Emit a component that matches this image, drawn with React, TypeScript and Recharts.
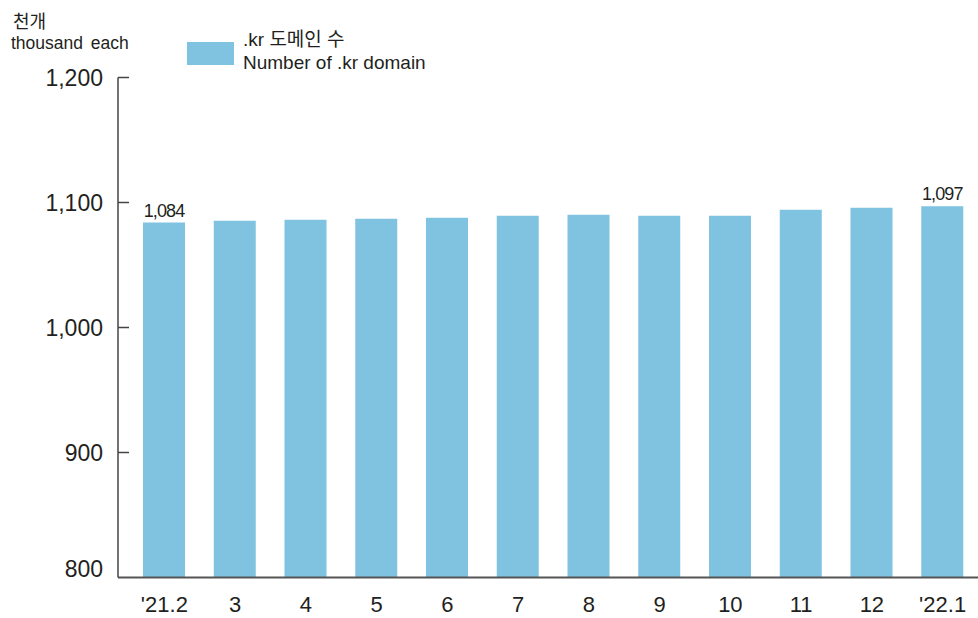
import React from 'react';
import { BarChart, Bar, XAxis, YAxis, LabelList } from 'recharts';

const months = ["'21.2", '3', '4', '5', '6', '7', '8', '9', '10', '11', '12', "'22.1"];
const domainCounts = [1084, 1085.4, 1086.2, 1087, 1087.8, 1089.4, 1090.2, 1089.4, 1089.4, 1094.2, 1095.8, 1097];
const yTicks = [800, 900, 1000, 1100, 1200];
const labelledIdx = [0, 11];
const valueLabels = ['1,084', '1,097'];

const FONT = '"Liberation Sans", Arial, "Noto Sans CJK KR", sans-serif';
const BAR = '#7fc3e0';
const INK = '#231f20';

const data = months.map((m, i) => ({ month: m, count: domainCounts[i] }));

function YTick(props: any) {
  const { x, y, payload } = props;
  return (
    <g>
      {payload.value !== 800 && (
        <line x1={x + 15} x2={x + 26} y1={y} y2={y} stroke="#444" strokeWidth={1.5} />
      )}
      <text x={x} y={y} dy={payload.value === 800 ? -1 : 8} textAnchor="end" fill={INK} fontSize={23} fontFamily={FONT}>
        {payload.value.toLocaleString('en-US')}
      </text>
    </g>
  );
}

function TopLabel(props: any) {
  const { x, y, width, index } = props;
  const k = labelledIdx.indexOf(index);
  if (k < 0) return null;
  return (
    <text x={x + width / 2} y={y - 6} textAnchor="middle" fill={INK} fontSize={18} fontFamily={FONT} letterSpacing={-0.9}>
      {valueLabels[k]}
    </text>
  );
}

export default function App() {
  return (
    <div style={{ position: 'absolute', left: 0, top: 0, width: 978, height: 618, background: '#fff', fontFamily: FONT, color: INK }}>
      <div style={{ position: 'absolute', left: 13, top: 7, fontSize: 18 }}>천개</div>
      <div style={{ position: 'absolute', left: 11, top: 33, fontSize: 17.5, wordSpacing: 3 }}>thousand each</div>
      <div style={{ position: 'absolute', left: 187, top: 42, width: 47, height: 23, background: BAR }} />
      <div style={{ position: 'absolute', left: 243, top: 28, fontSize: 19, lineHeight: '23px' }}>
        <div>.kr 도메인 수</div>
        <div>Number of .kr domain</div>
      </div>
      <BarChart
        width={978}
        height={618}
        data={data}
        margin={{ top: 77.5, right: 0, bottom: 0, left: 8 }}
        barSize={42}
      >
        <XAxis
          dataKey="month"
          interval={0}
          padding={{ left: 11, right: 0 }}
          tickLine={false}
          tickSize={0}
          tickMargin={19}
          height={40.5}
          axisLine={{ stroke: '#555', strokeWidth: 2 }}
          tick={{ fill: INK, fontSize: 22, fontFamily: FONT }}
        />
        <YAxis
          domain={[800, 1200]}
          ticks={yTicks}
          interval={0}
          width={110}
          tickLine={false}
          tickSize={0}
          tickMargin={15}
          axisLine={{ stroke: '#444', strokeWidth: 1.5 }}
          tick={<YTick />}
        />
        <Bar dataKey="count" fill={BAR} isAnimationActive={false}>
          <LabelList dataKey="count" content={<TopLabel />} />
        </Bar>
      </BarChart>
    </div>
  );
}
